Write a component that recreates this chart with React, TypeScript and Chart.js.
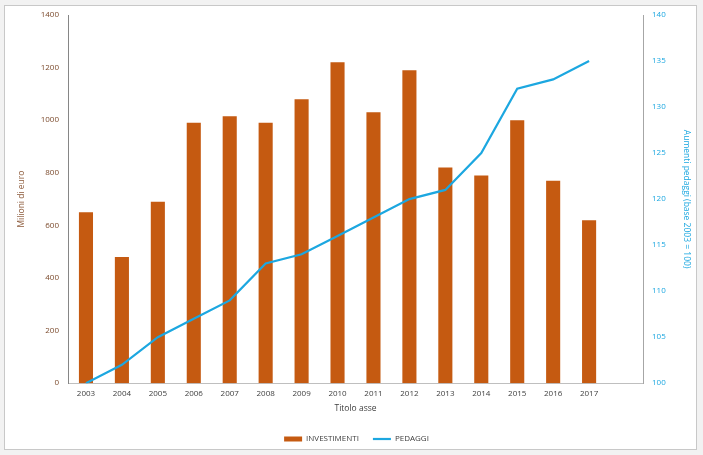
import React, { useEffect, useRef } from 'react';
import Chart from 'chart.js/auto';

// years on the x axis, the last empty slot keeps the gap before the right axis
const years = ['2003', '2004', '2005', '2006', '2007', '2008', '2009', '2010', '2011', '2012', '2013', '2014', '2015', '2016', '2017', ''];
const investimenti = [650, 480, 690, 990, 1015, 990, 1080, 1220, 1030, 1190, 820, 790, 1000, 770, 620, null];
const pedaggi = [100, 102, 105, 107, 109, 113, 114, 116, 118, 120, 121, 125, 132, 133, 135, null];

const FONT = "'Open Sans', 'Liberation Sans', sans-serif";
const BAR_COLOR = '#C55A11';
const LINE_COLOR = '#1CA7E0';

const App: React.FC = () => {
  const chartRef = useRef<HTMLCanvasElement | null>(null);

  useEffect(() => {
    document.body.style.margin = '0';
    let chart: Chart | null = null;

    if (chartRef.current) {
      const ctx = chartRef.current.getContext('2d');
      if (ctx) {
        chart = new Chart(ctx, {
          type: 'bar',
          data: {
            labels: years,
            datasets: [
              {
                type: 'bar',
                label: 'INVESTIMENTI',
                data: investimenti,
                backgroundColor: BAR_COLOR,
                borderWidth: 0,
                barPercentage: 0.8,
                categoryPercentage: 0.49,
                yAxisID: 'y',
                order: 1,
              },
              {
                type: 'line',
                label: 'PEDAGGI',
                data: pedaggi,
                borderColor: LINE_COLOR,
                backgroundColor: LINE_COLOR,
                borderWidth: 2.2,
                pointRadius: 0,
                tension: 0,
                fill: false,
                yAxisID: 'y1',
                order: 0,
              },
            ],
          },
          options: {
            animation: false,
            responsive: false,
            maintainAspectRatio: false,
            // the extra left padding only moves the legend a bit to the right
            layout: { padding: { left: 12, right: 0, top: 9, bottom: -4 } },
            plugins: {
              tooltip: { enabled: false },
              legend: {
                position: 'bottom',
                labels: {
                  font: { family: FONT, size: 8 },
                  color: '#404040',
                  padding: 14,
                  boxHeight: 5,
                  usePointStyle: true,
                  pointStyleWidth: 18,
                  sort: (a, b) => (a.datasetIndex ?? 0) - (b.datasetIndex ?? 0),
                  generateLabels: (c) => {
                    const items = Chart.defaults.plugins.legend.labels.generateLabels(c);
                    items.forEach((it) => {
                      if (it.datasetIndex === 0) {
                        it.pointStyle = 'rect';
                        it.lineWidth = 0;
                      } else {
                        it.pointStyle = 'line';
                        it.lineWidth = 2.2;
                        it.strokeStyle = LINE_COLOR;
                      }
                    });
                    return items;
                  },
                },
              },
            },
            scales: {
              x: {
                grid: { display: false, tickLength: 0 },
                border: { display: true, color: '#BFBFBF' },
                ticks: { font: { family: FONT, size: 8 }, color: '#404040', padding: 6, maxRotation: 0, autoSkip: false },
                title: {
                  display: true,
                  text: 'Titolo asse',
                  font: { family: FONT, size: 8.5 },
                  color: '#404040',
                  padding: { top: 0, bottom: 7.7 },
                },
                afterFit: (s) => { s.height = 37.8; },
              },
              y: {
                position: 'left',
                min: 0,
                max: 1400,
                ticks: {
                  stepSize: 200,
                  font: { family: FONT, size: 8 },
                  color: '#7B4A2C',
                  padding: 9,
                  callback: (v) => String(v),
                },
                grid: { display: false, tickLength: 0 },
                border: { display: true, color: '#868686' },
                title: {
                  display: true,
                  text: 'Milioni di euro',
                  font: { family: FONT, size: 8.5 },
                  color: '#8C5A3A',
                  padding: { top: -1, bottom: 0 },
                },
                afterFit: (s) => {
                  s.width = 51;
                  s.paddingTop = 0;
                  s.paddingBottom = 0;
                },
              },
              y1: {
                position: 'right',
                min: 100,
                max: 140,
                ticks: {
                  stepSize: 5,
                  font: { family: FONT, size: 8 },
                  color: '#1CA7E0',
                  padding: 9,
                  callback: (v) => String(v),
                },
                grid: { display: false, tickLength: 0 },
                border: { display: true, color: '#A6A6A6' },
                title: {
                  display: true,
                  text: 'Aumenti pedaggi (base 2003 = 100)',
                  font: { family: FONT, size: 8.5 },
                  color: '#1CA7E0',
                  padding: { top: 4, bottom: 0 },
                },
                afterFit: (s) => {
                  s.width = 53;
                  s.paddingTop = 0;
                  s.paddingBottom = 0;
                },
              },
            },
          },
        });
      }
    }

    return () => {
      if (chart) {
        chart.destroy();
      }
    };
  }, []);

  return (
    <div style={{ position: 'relative', width: 703, height: 455, background: '#F2F2F2' }}>
      <div
        style={{
          position: 'absolute',
          left: 4,
          top: 5,
          width: 693,
          height: 445,
          boxSizing: 'border-box',
          border: '1px solid #C8C8C8',
          background: '#FFFFFF',
        }}
      >
        <canvas ref={chartRef} width={691} height={443} style={{ display: 'block', width: 691, height: 443 }} />
      </div>
    </div>
  );
};

export default App;
